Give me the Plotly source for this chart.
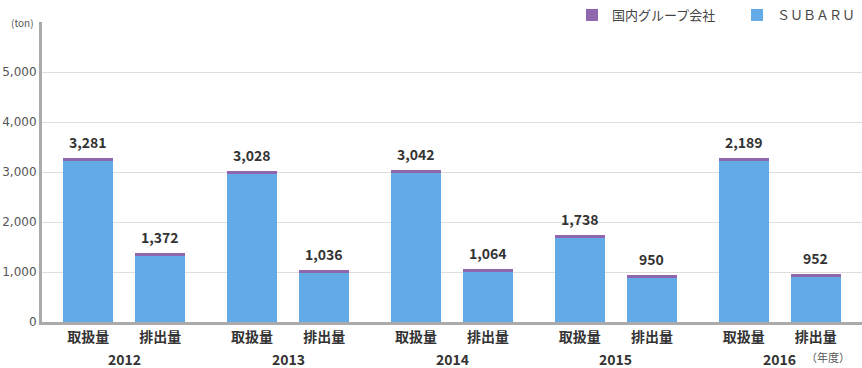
import plotly.graph_objects as go

years = ["2012", "2013", "2014", "2015", "2016"]
kinds = ["取扱量", "排出量"]
subaru = [3221, 1312, 2968, 976, 2982, 1004, 1678, 890, 3221, 892]
group_co = [60, 60, 60, 60, 60, 60, 60, 60, 60, 60]
value_labels = ["3,281", "1,372", "3,028", "1,036", "3,042", "1,064", "1,738", "950", "2,189", "952"]

GROUP_PITCH = 2.27
xs = [g * GROUP_PITCH + b for g in range(len(years)) for b in range(len(kinds))]
ticktext = [k for _ in years for k in kinds]
totals = [s + c for s, c in zip(subaru, group_co)]

BLUE = "#63ABE7"
PURPLE = "#8E67AF"
JP = "Noto Sans CJK JP"

fig = go.Figure()
fig.add_trace(go.Bar(x=xs, y=subaru, name="ＳＵＢＡＲＵ", marker=dict(color=BLUE, line=dict(width=0)),
                     width=0.694, hoverinfo="skip"))
fig.add_trace(go.Bar(x=xs, y=group_co, name="国内グループ会社", marker=dict(color=PURPLE, line=dict(width=0)),
                     width=0.694, hoverinfo="skip"))

for x, t, lab in zip(xs, totals, value_labels):
    fig.add_annotation(x=x, y=t, xref="x", yref="y", yshift=16, text=lab, showarrow=False,
                       yanchor="middle", font=dict(family=JP, size=14, color="#333333", weight="bold"))

for g, yr in enumerate(years):
    fig.add_annotation(x=g * GROUP_PITCH + 0.5, xref="x", y=0, yref="paper", yshift=-37,
                       text=yr, showarrow=False, yanchor="middle",
                       font=dict(family=JP, size=14, color="#333333", weight="bold"))

fig.add_annotation(x=1, xref="paper", xanchor="right", xshift=-10, y=0, yref="paper", yshift=-35,
                   text="（年度）", showarrow=False, yanchor="middle",
                   font=dict(family=JP, size=11, color="#555555"))
fig.add_annotation(x=0, xref="paper", xanchor="center", xshift=-20, y=1, yref="paper", yshift=0,
                   text="(ton)", showarrow=False, yanchor="middle",
                   font=dict(family=JP, size=10, color="#555555"))

fig.update_layout(
    width=862, height=368,
    margin=dict(l=42, r=0, t=22, b=46, autoexpand=False),
    barmode="stack",
    plot_bgcolor="white", paper_bgcolor="white",
    showlegend=True,
    legend=dict(orientation="h", x=(572 - 42) / 820, xanchor="left", y=1 + 22 / 300, yanchor="top",
                traceorder="reversed", font=dict(family=JP, size=13, color="#444444"),
                itemwidth=30, entrywidth=120, entrywidthmode="pixels", bgcolor="rgba(0,0,0,0)"),
    xaxis=dict(range=[-0.639, (len(years) - 1) * GROUP_PITCH + 1 + 0.639], tickvals=xs, ticktext=ticktext,
               showline=True, linewidth=3, linecolor="#AAAAAA", showgrid=False, zeroline=False,
               ticks="", automargin=False,
               tickfont=dict(family=JP, size=14, color="#333333", weight="bold")),
    yaxis=dict(range=[0, 6000], tickvals=[0, 1000, 2000, 3000, 4000, 5000], tickformat=",",
               showline=True, linewidth=3, linecolor="#AAAAAA", showgrid=True, gridcolor="#DDDDDD",
               gridwidth=1, zeroline=False, ticks="", automargin=False,
               tickfont=dict(family="DejaVu Sans", size=12, color="#555555")),
)

fig.write_html("out.html", config={"displayModeBar": False},
               post_script="document.body.style.margin='0';document.body.style.overflow='hidden';")
